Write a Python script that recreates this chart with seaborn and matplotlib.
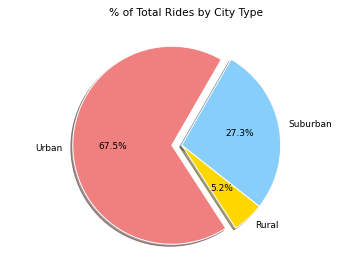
import matplotlib
matplotlib.use("Agg")
import matplotlib.pyplot as plt
import seaborn as sns

labels = ["Urban", "Rural", "Suburban"]
percents = [67.5, 5.2, 27.3]
colors = ["lightcoral", "gold", "lightskyblue"]
explode = [0.1, 0, 0]

sns.set_style("white")
plt.rcParams["font.family"] = ["DejaVu Sans"]
plt.rcParams["text.color"] = "black"

W, H, DPI = 356, 264, 72
fig = plt.figure(figsize=(W / DPI, H / DPI), dpi=DPI)
r = 99.0
cx, cy = 181.7, 145.0
size = 2.5 * r
ax = fig.add_axes([(cx - size / 2) / W, (H - cy - size / 2) / H, size / W, size / H])

ax.pie(percents, labels=labels, colors=colors, explode=explode,
       autopct="%1.1f%%", shadow=True, startangle=60,
       textprops={"fontsize": 9, "color": "black"})
ax.set_aspect("equal")

fig.text(186.5 / W, 1 - 13.5 / H, "% of Total Rides by City Type",
         ha="center", va="center", fontsize=10.6, color="black")

fig.savefig("out.png", dpi=DPI)
